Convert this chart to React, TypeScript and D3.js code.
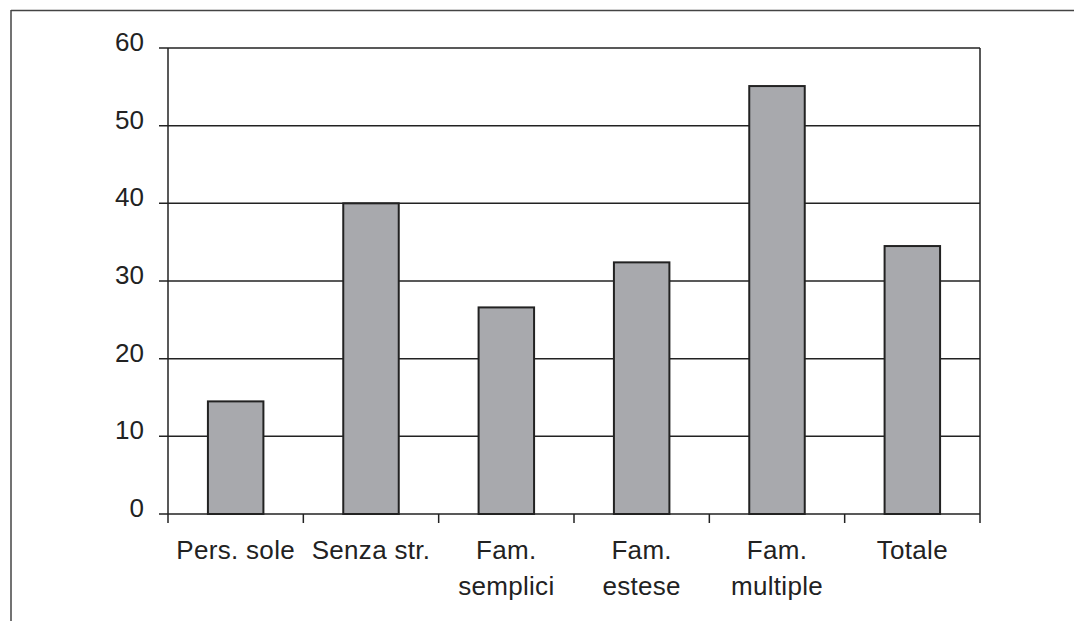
import React from "react";
import * as d3 from "d3";

const categories: string[][] = [
  ["Pers. sole"],
  ["Senza str."],
  ["Fam.", "semplici"],
  ["Fam.", "estese"],
  ["Fam.", "multiple"],
  ["Totale"],
];
const values: number[] = [14.5, 40, 26.6, 32.4, 55.1, 34.5];
const yTicks: number[] = [0, 10, 20, 30, 40, 50, 60];

const W = 1074;
const H = 621;
const M = { left: 168, right: 980, top: 48, bottom: 514 };
const FONT = "'Liberation Sans', Arial, Helvetica, sans-serif";
const INK = "#222";

export default function App() {
  const x = d3
    .scaleBand<number>()
    .domain(d3.range(categories.length))
    .range([M.left, M.right])
    .padding(0);
  const y = d3.scaleLinear().domain([0, 60]).range([M.bottom, M.top]);
  const bw = x.bandwidth() * 0.41;
  const boundaries = d3.range(categories.length + 1).map((i) => M.left + i * x.step());

  return (
    <svg
      width={W}
      height={H}
      style={{ position: "absolute", left: 0, top: 0, background: "#fff" }}
    >
      {/* outer frame */}
      <line x1={11} y1={10.5} x2={W} y2={10.5} stroke="#444" strokeWidth={1.5} />
      <line x1={11} y1={10} x2={11} y2={H} stroke="#444" strokeWidth={1.5} />

      {/* gridlines + y ticks */}
      {yTicks.map((t) => (
        <g key={t}>
          <line
            x1={M.left - 9}
            x2={M.right}
            y1={y(t)}
            y2={y(t)}
            stroke={INK}
            strokeWidth={1.5}
          />
          <text
            x={144}
            y={y(t) + 3}
            textAnchor="end"
            fontFamily={FONT}
            fontSize={26}
            fill={INK}
          >
            {t}
          </text>
        </g>
      ))}

      {/* plot verticals */}
      <line x1={M.left} x2={M.left} y1={M.top} y2={M.bottom} stroke={INK} strokeWidth={1.5} />
      <line x1={M.right} x2={M.right} y1={M.top} y2={M.bottom} stroke={INK} strokeWidth={1.5} />

      {/* x ticks */}
      {boundaries.map((bx, i) => (
        <line
          key={i}
          x1={bx}
          x2={bx}
          y1={M.bottom}
          y2={M.bottom + 9}
          stroke={INK}
          strokeWidth={1.5}
        />
      ))}

      {/* bars */}
      {values.map((v, i) => {
        const cx = (x(i) as number) + x.bandwidth() / 2;
        return (
          <rect
            key={i}
            x={cx - bw / 2}
            y={y(v)}
            width={bw}
            height={y(0) - y(v)}
            fill="#a8a9ad"
            stroke={INK}
            strokeWidth={2}
          />
        );
      })}

      {/* x labels */}
      {categories.map((lines, i) => {
        const cx = (x(i) as number) + x.bandwidth() / 2;
        return (
          <text
            key={i}
            x={cx}
            y={559}
            textAnchor="middle"
            fontFamily={FONT}
            fontSize={26}
            letterSpacing={0.3}
            fill={INK}
          >
            {lines.map((l, j) => (
              <tspan key={j} x={cx} dy={j === 0 ? 0 : 36}>
                {l}
              </tspan>
            ))}
          </text>
        );
      })}
    </svg>
  );
}
